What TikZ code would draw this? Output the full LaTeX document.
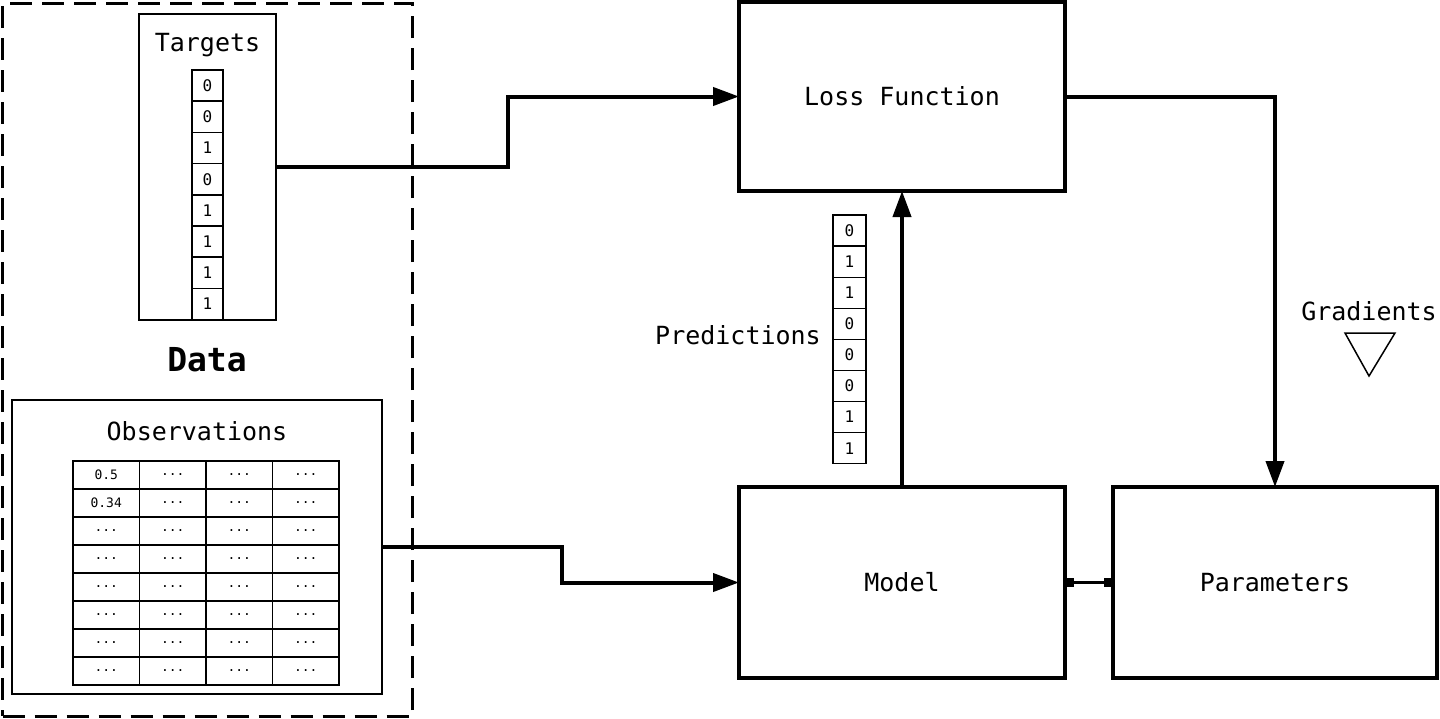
\documentclass[tikz,border=0pt]{standalone}
\usepackage{fontspec}
\setmonofont{DejaVu Sans Mono}
\usetikzlibrary{arrows.meta}
\tikzset{
  bigbox/.style={draw, line width=4pt, inner sep=0pt, outer sep=0pt, font=\ttfamily\fontsize{25}{29}\selectfont},
  thinbox/.style={draw, line width=1.6pt, inner sep=0pt, outer sep=0pt},
  cell/.style={draw, line width=1.6pt, minimum width=31pt, minimum height=31.2pt, inner sep=0pt, outer sep=0pt, font=\ttfamily\fontsize{16}{18}\selectfont},
  tcell/.style={draw, line width=1.3pt, minimum width=66.5pt, minimum height=28pt, inner sep=0pt, outer sep=0pt, font=\ttfamily\fontsize{13}{15}\selectfont},
  lbl/.style={font=\ttfamily\fontsize{25}{29}\selectfont, inner sep=0pt},
  conn/.style={line width=4pt, -{Triangle[length=26pt,width=18pt]}},
}
\begin{document}
\begin{tikzpicture}[x=1pt,y=-1pt]
\useasboundingbox (0,0) rectangle (1440,718);
% Data dashed region
\node[draw, line width=3pt, dash pattern=on 22pt off 10pt, minimum width=410pt, minimum height=713pt, inner sep=0pt] (data) at (207.5,359.5) {};
% Targets
\node[thinbox, minimum width=137pt, minimum height=306pt] (targets) at (207.5,167) {};
\node[lbl] (tlabel) at (207.5,45) {Targets};
\foreach \v [count=\i] in {0,0,1,0,1,1,1,1}
  \node[cell] (t\i) at (207.5,{70+31.2*(\i-0.5)}) {\v};
\node[font=\ttfamily\bfseries\fontsize{33}{37}\selectfont, inner sep=0pt] (datalabel) at (207,360) {Data};
% Observations
\node[thinbox, minimum width=370pt, minimum height=294pt] (obs) at (197,547) {};
\node[lbl] (olabel) at (197,431) {Observations};
\node[tcell] (o11) at (106.25,475) {0.5};
\node[tcell] (o21) at (106.25,503) {0.34};
\foreach \r in {3,...,8}
  \node[tcell] (o\r1) at (106.25,{461+28*(\r-0.5)}) {...};
\foreach \r in {1,...,8}
  \foreach \c in {2,...,4}
    \node[tcell] (o\r\c) at ({73+66.5*(\c-0.5)},{461+28*(\r-0.5)}) {...};
% main boxes
\node[bigbox, minimum width=326pt, minimum height=189pt] (loss) at (902,96.5) {Loss Function};
\node[bigbox, minimum width=326pt, minimum height=191pt] (model) at (902,582.5) {Model};
\node[bigbox, minimum width=324pt, minimum height=191pt] (params) at (1275,582.5) {Parameters};
% Predictions
\foreach \v [count=\i] in {0,1,1,0,0,0,1,1}
  \node[cell, minimum width=33pt, minimum height=31.1pt, line width=1.3pt] (p\i) at (849.5,{215+31.1*(\i-0.5)}) {\v};
\node[lbl, anchor=east] (plabel) at (821,335) {Predictions};
% Gradients
\node[lbl] (glabel) at (1369,311) {Gradients};
\draw[line width=1.5pt, line join=miter] (1345,333) -- (1395,333) -- (1369,376) -- cycle;
% connectors
\draw[conn] (targets.east) -- (508,167) |- (loss.west);
\draw[conn] (obs.east) -- (562,547) |- (model.west);
\draw[conn] (model.north) -- (loss.south);
\draw[conn] (loss.east) -| (params.north);
\draw[line width=3pt, {Square[length=9pt,width=9pt]}-{Square[length=9pt,width=9pt]}] (model.east) -- (params.west);
\end{tikzpicture}
\end{document}
